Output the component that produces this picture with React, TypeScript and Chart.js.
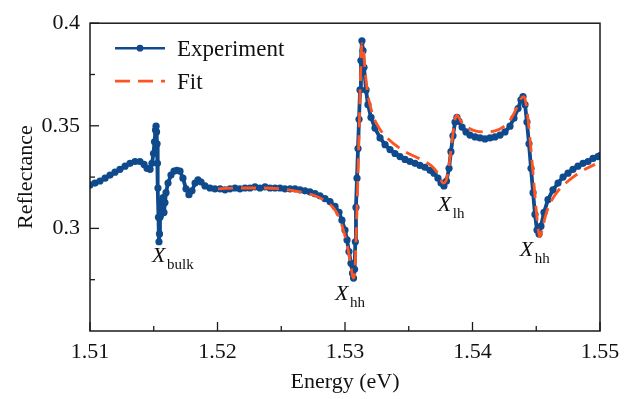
import React, { useEffect, useRef } from "react";
import { Chart, registerables } from "chart.js";

Chart.register(...registerables);

const experimentEnergy = [
  1.51, 1.51039, 1.51078, 1.51118, 1.51157, 1.51196, 1.51235, 1.51275, 1.51314, 1.51353,
  1.51392, 1.51424, 1.51447, 1.51471, 1.51486, 1.51498, 1.51506, 1.51514, 1.51518, 1.51522,
  1.51526, 1.51529, 1.51533, 1.51537, 1.51541, 1.51545, 1.51549, 1.51553, 1.51557, 1.51565,
  1.51573, 1.5158, 1.51588, 1.51596, 1.51612, 1.51635, 1.51659, 1.51682, 1.51706, 1.51729,
  1.51753, 1.51776, 1.518, 1.51824, 1.51847, 1.51871, 1.51902, 1.51941, 1.5198, 1.5202,
  1.52059, 1.52098, 1.52137, 1.52176, 1.52216, 1.52255, 1.52294, 1.52333, 1.52373, 1.52412,
  1.52451, 1.5249, 1.52529, 1.52569, 1.52608, 1.52647, 1.52686, 1.52725, 1.52765, 1.52804,
  1.52843, 1.52882, 1.52922, 1.52953, 1.52976, 1.53, 1.53016, 1.53031, 1.53047, 1.53059,
  1.53067, 1.53075, 1.53081, 1.53086, 1.53094, 1.53102, 1.5311, 1.53118, 1.53125, 1.53133,
  1.53141, 1.53149, 1.53165, 1.5318, 1.53204, 1.53235, 1.53275, 1.53314, 1.53353, 1.53392,
  1.53431, 1.53471, 1.5351, 1.53549, 1.53588, 1.53627, 1.53667, 1.53698, 1.53729, 1.53753,
  1.53776, 1.53796, 1.53816, 1.53831, 1.53847, 1.53863, 1.53878, 1.53894, 1.53918, 1.53949,
  1.5398, 1.5402, 1.54059, 1.54098, 1.54137, 1.54176, 1.54216, 1.54255, 1.54294, 1.54325,
  1.54357, 1.5438, 1.54396, 1.54412, 1.54427, 1.54443, 1.54459, 1.54475, 1.5449, 1.54506,
  1.54522, 1.54537, 1.54561, 1.54592, 1.54631, 1.54671, 1.5471, 1.54749, 1.54788, 1.54827,
  1.54867, 1.54906, 1.54945, 1.54984, 1.55,
];

const experimentReflectance = [
  0.3212, 0.3221, 0.3231, 0.3245, 0.326, 0.3274, 0.3288, 0.3303, 0.3317, 0.3326,
  0.3326, 0.3312, 0.3293, 0.3288, 0.3317, 0.3365, 0.3422, 0.3479, 0.3498, 0.347,
  0.3412, 0.3317, 0.3197, 0.3054, 0.2935, 0.2973, 0.3054, 0.3126, 0.3068, 0.3102,
  0.315, 0.3078, 0.3126, 0.3174, 0.3221, 0.326, 0.3279, 0.3283, 0.3279, 0.3245,
  0.3193, 0.3164, 0.3183, 0.3221, 0.3236, 0.3226, 0.3207, 0.3197, 0.3193, 0.3193,
  0.3188, 0.3193, 0.3197, 0.3193, 0.3197, 0.3197, 0.3202, 0.3197, 0.3202, 0.3197,
  0.3197, 0.3197, 0.3193, 0.3193, 0.3193, 0.3188, 0.3183, 0.3178, 0.3169, 0.3159,
  0.3145, 0.3131, 0.3107, 0.3078, 0.304, 0.2992, 0.2944, 0.2887, 0.283, 0.2782,
  0.2758, 0.2801, 0.2935, 0.3102, 0.3245, 0.3389, 0.3532, 0.3675, 0.3818, 0.3914,
  0.3866, 0.3785, 0.3675, 0.3603, 0.3541, 0.3489, 0.3441, 0.3408, 0.3384, 0.3365,
  0.335, 0.3336, 0.3326, 0.3317, 0.3307, 0.3298, 0.3283, 0.3269, 0.3245, 0.3221,
  0.3207, 0.3231, 0.3293, 0.3374, 0.3451, 0.3518, 0.3541, 0.3522, 0.3494, 0.347,
  0.3455, 0.3446, 0.3441, 0.3436, 0.3441, 0.3446, 0.3455, 0.347, 0.3498, 0.3537,
  0.3584, 0.3627, 0.3642, 0.3603, 0.3518, 0.3412, 0.3293, 0.3174, 0.3068, 0.2992,
  0.2973, 0.3011, 0.3078, 0.314, 0.3188, 0.3221, 0.325, 0.3269, 0.3288, 0.3303,
  0.3317, 0.3326, 0.3341, 0.335, 0.3355,
];

const fitEnergy = [
  1.52004, 1.52176, 1.52333, 1.5249, 1.52647, 1.52765, 1.52843, 1.52906, 1.52953, 1.52992,
  1.53024, 1.53047, 1.53063, 1.53075, 1.53086, 1.53098, 1.5311, 1.53122, 1.53133, 1.53145,
  1.53157, 1.5318, 1.53212, 1.53259, 1.53314, 1.53392, 1.53471, 1.53549, 1.53627, 1.5369,
  1.53737, 1.53769, 1.53792, 1.53816, 1.53839, 1.53863, 1.53878, 1.5391, 1.53957, 1.5402,
  1.54098, 1.54176, 1.54239, 1.54294, 1.54341, 1.5438, 1.54404, 1.54427, 1.54451, 1.54475,
  1.54498, 1.54518, 1.54529, 1.54545, 1.54576, 1.54616, 1.54671, 1.54741, 1.5482, 1.54898,
  1.54961,
];

const fitReflectance = [
  0.3193, 0.3197, 0.3197, 0.3193, 0.3178, 0.3159, 0.3135, 0.3102, 0.3054, 0.2982,
  0.2897, 0.2815, 0.2758, 0.2772, 0.2935, 0.3174, 0.346, 0.3747, 0.39, 0.3866,
  0.3771, 0.3651, 0.3565, 0.3498, 0.3451, 0.3408, 0.3374, 0.335, 0.3326, 0.3298,
  0.326, 0.3221, 0.3231, 0.3307, 0.3422, 0.3532, 0.3551, 0.3522, 0.3494, 0.3475,
  0.347, 0.3475, 0.3494, 0.3527, 0.358, 0.3632, 0.3642, 0.358, 0.3436, 0.3269,
  0.3102, 0.2982, 0.2959, 0.2992, 0.3068, 0.3131, 0.3183, 0.3226, 0.3264, 0.3293,
  0.3312,
];

const xTickValues = [1.51, 1.52, 1.53, 1.54, 1.55];
const xMinorTickValues = [1.515, 1.525, 1.535, 1.545];
const yTickValues = [0.3, 0.35, 0.4];
const yMinorTickValues = [0.275, 0.325, 0.375];

const peakLabels = [
  { main: "X", sub: "bulk", energy: 1.51486, reflectance: 0.2834 },
  { main: "X", sub: "hh", energy: 1.52921, reflectance: 0.2653 },
  { main: "X", sub: "lh", energy: 1.53728, reflectance: 0.3086 },
  { main: "X", sub: "hh", energy: 1.54371, reflectance: 0.2867 },
];

const legendItems = ["Experiment", "Fit"];

const BLUE = "#0e4a8c";
const RED = "#fe5421";
const SERIF = "'Liberation Serif', 'Times New Roman', serif";

const decorPlugin = {
  id: "decor",
  afterDatasetsDraw(chart: any) {
    const { ctx, chartArea } = chart;
    const xs = chart.scales.x;
    const ys = chart.scales.y;
    ctx.save();
    ctx.strokeStyle = "#1a1a1a";
    ctx.lineWidth = 1.5;
    ctx.strokeRect(chartArea.left, chartArea.top, chartArea.right - chartArea.left, chartArea.bottom - chartArea.top);
    ctx.lineWidth = 1.3;
    const drawX = (v: number, len: number) => {
      const px = xs.getPixelForValue(v);
      ctx.beginPath();
      ctx.moveTo(px, chartArea.bottom);
      ctx.lineTo(px, chartArea.bottom - len);
      ctx.stroke();
    };
    const drawY = (v: number, len: number) => {
      const py = ys.getPixelForValue(v);
      ctx.beginPath();
      ctx.moveTo(chartArea.left, py);
      ctx.lineTo(chartArea.left + len, py);
      ctx.stroke();
    };
    xTickValues.forEach((v) => drawX(v, 9));
    xMinorTickValues.forEach((v) => drawX(v, 5));
    yTickValues.forEach((v) => drawY(v, 9));
    yMinorTickValues.forEach((v) => drawY(v, 5));

    // legend
    const lx = chartArea.left + 25;
    const rowY = [chartArea.top + 25, chartArea.top + 58];
    ctx.lineWidth = 2.5;
    ctx.strokeStyle = BLUE;
    ctx.beginPath();
    ctx.moveTo(lx, rowY[0]);
    ctx.lineTo(lx + 50, rowY[0]);
    ctx.stroke();
    ctx.fillStyle = BLUE;
    ctx.beginPath();
    ctx.arc(lx + 25, rowY[0], 3.4, 0, Math.PI * 2);
    ctx.fill();
    ctx.strokeStyle = RED;
    ctx.lineWidth = 2.8;
    ctx.setLineDash([15, 8]);
    ctx.beginPath();
    ctx.moveTo(lx, rowY[1]);
    ctx.lineTo(lx + 50, rowY[1]);
    ctx.stroke();
    ctx.setLineDash([]);
    ctx.fillStyle = "#111";
    ctx.font = `23px ${SERIF}`;
    ctx.textBaseline = "alphabetic";
    ctx.textAlign = "left";
    legendItems.forEach((t, i) => ctx.fillText(t, lx + 62, rowY[i] + 8));

    // peak labels
    peakLabels.forEach((p) => {
      const px = xs.getPixelForValue(p.energy);
      const py = ys.getPixelForValue(p.reflectance);
      ctx.font = `italic 22px ${SERIF}`;
      ctx.fillText(p.main, px, py);
      ctx.font = `15px ${SERIF}`;
      ctx.fillText(p.sub, px + 15, py + 7);
    });
    ctx.restore();
  },
};

export default function App() {
  const canvasRef = useRef<HTMLCanvasElement | null>(null);
  useEffect(() => {
    const canvas = canvasRef.current;
    if (!canvas) return;
    const chart = new Chart(canvas, {
      type: "line",
      data: {
        datasets: [
          {
            label: "Experiment",
            data: experimentEnergy.map((e, i) => ({ x: e, y: experimentReflectance[i] })),
            borderColor: BLUE,
            backgroundColor: BLUE,
            borderWidth: 3.8,
            borderJoinStyle: "round",
            borderCapStyle: "round",
            pointRadius: 3.6,
            pointBorderWidth: 0,
            pointBackgroundColor: BLUE,
            tension: 0,
            order: 2,
          },
          {
            label: "Fit",
            data: fitEnergy.map((e, i) => ({ x: e, y: fitReflectance[i] })),
            borderColor: RED,
            borderWidth: 2.8,
            borderDash: [15, 8],
            pointRadius: 0,
            cubicInterpolationMode: "monotone",
            order: 1,
          },
        ],
      },
      options: {
        animation: false,
        responsive: false,
        devicePixelRatio: 1,
        events: [],
        layout: { padding: { top: 17, right: 39, left: 0, bottom: 0 } },
        plugins: { legend: { display: false }, tooltip: { enabled: false } },
        scales: {
          x: {
            type: "linear",
            min: 1.51,
            max: 1.55,
            grid: { display: false, drawTicks: false },
            border: { display: false },
            afterBuildTicks: (scale: any) => {
              scale.ticks = xTickValues.map((v) => ({ value: v }));
            },
            afterFit: (scale: any) => {
              scale.height = 68;
            },
            ticks: {
              padding: 8,
              color: "#111",
              font: { family: SERIF, size: 22 },
              maxRotation: 0,
              callback: (v: any) => Number(v).toFixed(2),
            },
            title: {
              display: true,
              text: "Energy (eV)",
              color: "#111",
              font: { family: SERIF, size: 22 },
              padding: { top: 0, bottom: 4 },
            },
          },
          y: {
            type: "linear",
            min: 0.25,
            max: 0.4,
            grid: { display: false, drawTicks: false },
            border: { display: false },
            afterBuildTicks: (scale: any) => {
              scale.ticks = yTickValues.map((v) => ({ value: v }));
            },
            afterFit: (scale: any) => {
              scale.width = 90;
            },
            ticks: {
              padding: 10,
              color: "#111",
              font: { family: SERIF, size: 22 },
              callback: (v: any) => String(Number(Number(v).toFixed(3))),
            },
            title: {
              display: true,
              text: "Reflectance",
              color: "#111",
              font: { family: SERIF, size: 22 },
              padding: { top: 13, bottom: 0 },
            },
          },
        },
      },
      plugins: [decorPlugin],
    } as any);
    return () => chart.destroy();
  }, []);
  return (
    <div style={{ position: "fixed", left: 0, top: 0, width: 639, height: 399, background: "#fff" }}>
      <canvas ref={canvasRef} width={639} height={399} style={{ width: 639, height: 399, display: "block" }} />
    </div>
  );
}
